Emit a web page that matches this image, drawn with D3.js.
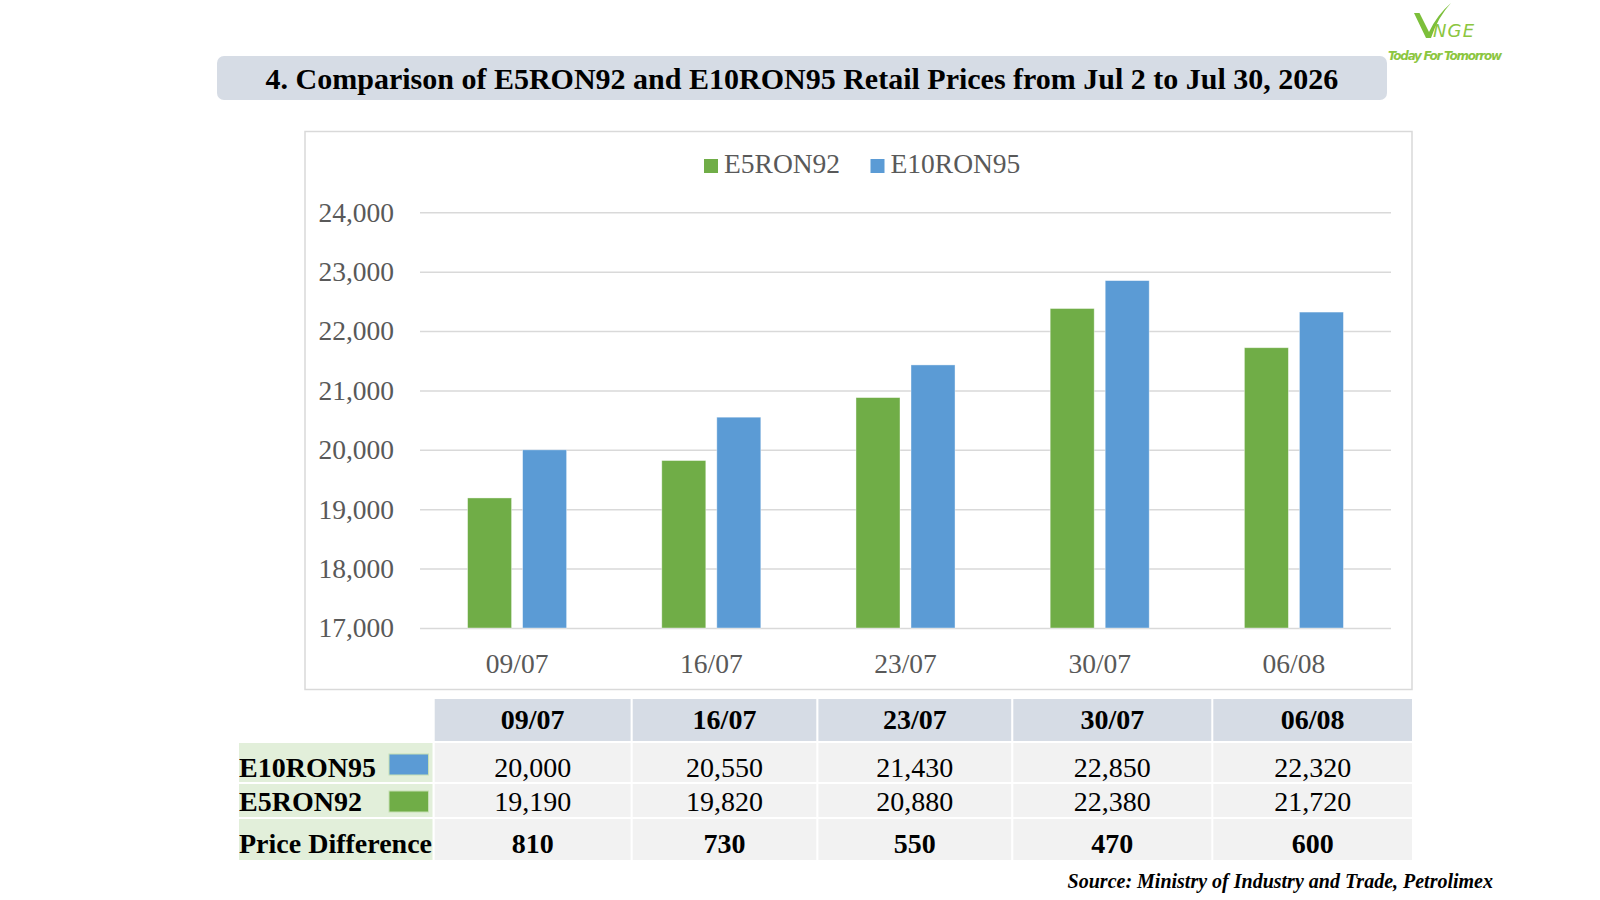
<!DOCTYPE html>
<html>
<head>
<meta charset="utf-8">
<script src="https://cdn.jsdelivr.net/npm/d3@7"></script>
<style>
  body { margin: 0; background: #ffffff; }
  svg { display: block; }
</style>
</head>
<body>
<svg id="chart" width="1600" height="900"></svg>
<script>
// data
const dates = ["09/07", "16/07", "23/07", "30/07", "06/08"];
const seriesNames = ["E5RON92", "E10RON95"];
const e5ron92 = [19190, 19820, 20880, 22380, 21720];
const e10ron95 = [20000, 20550, 21430, 22850, 22320];
const priceDiff = [810, 730, 550, 470, 600];
const yTicks = [17000, 18000, 19000, 20000, 21000, 22000, 23000, 24000];
const rowLabels = ["E10RON95", "E5RON92", "Price Difference"];

const colors = { E5RON92: "#70ad47", E10RON95: "#5b9bd5" };
const serif = "'Liberation Serif', 'Times New Roman', serif";
const fmt = d3.format(",");

const svg = d3.select("#chart");

// title banner
svg.append("rect")
    .attr("x", 217).attr("y", 56)
    .attr("width", 1170).attr("height", 44)
    .attr("rx", 7)
    .attr("fill", "#d6dce5");

svg.append("text")
    .attr("x", 802).attr("y", 89)
    .attr("text-anchor", "middle")
    .style("font-family", serif)
    .style("font-weight", "bold")
    .style("font-size", "30px")
    .attr("fill", "#000")
    .text("4. Comparison of E5RON92 and E10RON95 Retail Prices from Jul 2 to Jul 30, 2026");

// logo
const logo = svg.append("g").attr("fill", "#8cc63f");
logo.append("path")
    .attr("d", "M1414,13 L1419.5,13 L1429,32 Q1437,15 1451,3 Q1438,17 1431,38 L1426,38 Z")
    .attr("fill", "#7cbf3a");
logo.append("text")
    .attr("x", 1433).attr("y", 37)
    .style("font-family", "'DejaVu Sans', sans-serif")
    .style("font-style", "italic")
    .style("font-size", "18px")
    .attr("textLength", 41)
    .text("NGE");
logo.append("text")
    .attr("x", 1388).attr("y", 60)
    .attr("textLength", 114)
    .style("font-family", "'DejaVu Sans', sans-serif")
    .style("font-style", "italic")
    .style("font-weight", "bold")
    .style("font-size", "12px")
    .text("Today For Tomorrow");

// chart frame
svg.append("rect")
    .attr("x", 305).attr("y", 131.5)
    .attr("width", 1107).attr("height", 558)
    .attr("fill", "#fff")
    .attr("stroke", "#d9d9d9")
    .attr("stroke-width", 1.5);

const plot = { left: 420, right: 1391, top: 212.3, bottom: 628 };

const y = d3.scaleLinear()
    .domain([17000, 24000])
    .range([plot.bottom, plot.top]);

const x0 = d3.scaleBand()
    .domain(dates)
    .range([plot.left, plot.right]);

const x1 = d3.scaleBand()
    .domain(seriesNames)
    .range([x0.bandwidth() * 0.245, x0.bandwidth() * 0.755])
    .paddingInner(0.2);

// gridlines + y labels
const yAxis = d3.axisLeft(y)
    .tickValues(yTicks)
    .tickSize(-(plot.right - plot.left))
    .tickPadding(26)
    .tickFormat(fmt);

const yg = svg.append("g")
    .attr("transform", `translate(${plot.left},0)`)
    .call(yAxis);
yg.select(".domain").remove();
yg.selectAll(".tick line").attr("stroke", "#d9d9d9").attr("stroke-width", 1.5);
yg.selectAll(".tick text")
    .attr("fill", "#595959")
    .style("font-family", serif)
    .style("font-size", "27.5px");

// bars
const groups = svg.append("g")
    .selectAll("g")
    .data(dates)
    .join("g")
    .attr("transform", d => `translate(${x0(d)},0)`);

groups.selectAll("rect")
    .data((d, i) => [
        { key: "E5RON92", value: e5ron92[i] },
        { key: "E10RON95", value: e10ron95[i] }
    ])
    .join("rect")
    .attr("x", d => x1(d.key))
    .attr("width", x1.bandwidth())
    .attr("y", d => y(d.value))
    .attr("height", d => y(17000) - y(d.value))
    .attr("fill", d => colors[d.key])
    .attr("stroke", "#ffffff")
    .attr("stroke-opacity", 0.5)
    .attr("stroke-width", 0.8);

// x axis labels
const xAxis = d3.axisBottom(x0).tickSize(0).tickPadding(25);
const xg = svg.append("g")
    .attr("transform", `translate(0,${plot.bottom})`)
    .call(xAxis);
xg.select(".domain").remove();
xg.selectAll(".tick text")
    .attr("fill", "#595959")
    .style("font-family", serif)
    .style("font-size", "27.5px");

// legend
const legendX = [704, 870.5];
const legend = svg.append("g")
    .selectAll("g")
    .data(seriesNames)
    .join("g")
    .attr("transform", (d, i) => `translate(${legendX[i]},159)`);
legend.append("rect")
    .attr("width", 14).attr("height", 14)
    .attr("fill", d => colors[d]);
legend.append("text")
    .attr("x", 20).attr("y", 14)
    .attr("fill", "#595959")
    .style("font-family", serif)
    .style("font-size", "27.5px")
    .text(d => d);

// table below - column edges as laid out in the slide
const colLeft = [434.7, 632.7, 818.4, 1013.3, 1213.3];
const colRight = [630.6, 816.3, 1011.2, 1211.3, 1412];
const tx = d3.scaleOrdinal().domain(dates).range(colLeft);
const tw = d3.scaleOrdinal().domain(dates).range(colRight.map((r, i) => r - colLeft[i]));

const rowTop = [699, 743, 784, 819];
const rowH = [42, 39, 33, 41];
const rowBase = [729.3, 776.7, 810.7, 853.3];

const table = svg.append("g").style("font-family", serif).style("font-size", "28px");

// header row
table.selectAll(".hcell")
    .data(dates)
    .join("rect")
    .attr("class", "hcell")
    .attr("x", d => tx(d))
    .attr("y", rowTop[0])
    .attr("width", d => tw(d))
    .attr("height", rowH[0])
    .attr("fill", "#d6dce5");
table.selectAll(".htext")
    .data(dates)
    .join("text")
    .attr("class", "htext")
    .attr("x", d => tx(d) + tw(d) / 2)
    .attr("y", rowBase[0])
    .attr("text-anchor", "middle")
    .style("font-weight", "bold")
    .text(d => d);

const rowValues = [e10ron95, e5ron92, priceDiff];

rowValues.forEach((vals, r) => {
    const ri = r + 1;
    table.append("rect")
        .attr("x", 239).attr("y", rowTop[ri])
        .attr("width", 193.5).attr("height", rowH[ri])
        .attr("fill", "#e2efda");
    table.append("text")
        .attr("x", 239).attr("y", rowBase[ri])
        .style("font-weight", "bold")
        .text(rowLabels[r]);

    table.selectAll(`.cell${r}`)
        .data(vals)
        .join("rect")
        .attr("class", `cell${r}`)
        .attr("x", (d, i) => tx(dates[i]))
        .attr("y", rowTop[ri])
        .attr("width", (d, i) => tw(dates[i]))
        .attr("height", rowH[ri])
        .attr("fill", "#f2f2f2");
    table.selectAll(`.val${r}`)
        .data(vals)
        .join("text")
        .attr("class", `val${r}`)
        .attr("x", (d, i) => tx(dates[i]) + tw(dates[i]) / 2)
        .attr("y", rowBase[ri])
        .attr("text-anchor", "middle")
        .style("font-weight", r === 2 ? "bold" : "normal")
        .text(d => fmt(d));
});

// colour swatches next to the series labels
const swatchTop = [754, 791];
["E10RON95", "E5RON92"].forEach((k, i) => {
    table.append("rect")
        .attr("x", 389).attr("y", swatchTop[i])
        .attr("width", 39.5).attr("height", 21)
        .attr("fill", colors[k])
        .attr("stroke", "#c6e0b4")
        .attr("stroke-width", 1);
});

// source note
svg.append("text")
    .attr("x", 1493).attr("y", 888)
    .attr("text-anchor", "end")
    .style("font-family", serif)
    .style("font-weight", "bold")
    .style("font-style", "italic")
    .style("font-size", "20px")
    .text("Source: Ministry of Industry and Trade, Petrolimex");
</script>
</body>
</html>
